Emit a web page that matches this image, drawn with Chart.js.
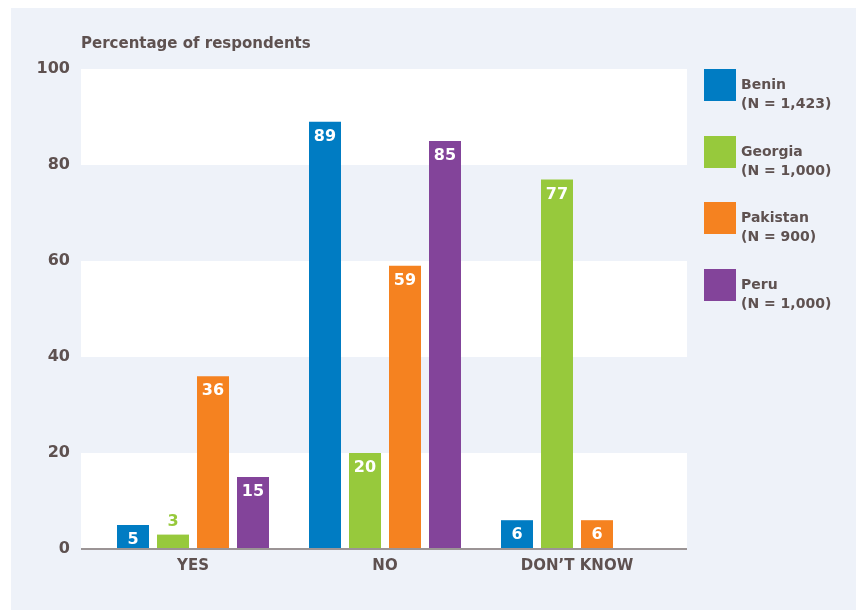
<!DOCTYPE html>
<html>
<head>
<meta charset="utf-8">
<script src="https://cdn.jsdelivr.net/npm/chart.js@4/dist/chart.umd.min.js"></script>
<style>
  html, body { margin: 0; padding: 0; background: #ffffff; }
  #wrap { position: relative; width: 859px; height: 610px; }
</style>
</head>
<body>
<div id="wrap"><canvas id="chart" width="859" height="610"></canvas></div>
<script>
// Survey answers, percentage of respondents per country
const categories = ['YES', 'NO', 'DON\u2019T KNOW'];
const countries = ['Benin', 'Georgia', 'Pakistan', 'Peru'];
const sampleSizes = ['1,423', '1,000', '900', '1,000'];
const benin = [5, 89, 6];
const georgia = [3, 20, 77];
const pakistan = [36, 59, 6];
const peru = [15, 85, 0];
const yTicks = [0, 20, 40, 60, 80, 100];

const colors = ['#007cc3', '#97c93c', '#f58220', '#83449a'];
const textColor = '#5e5150';
const panelColor = '#eef2f9';
const fontFamily = '"DejaVu Sans", sans-serif';
const seriesValues = [benin, georgia, pakistan, peru];
const extLeft = 16, extRight = 14;

// Panel, alternating white bands, baseline, title and legend
const decor = {
  id: 'decor',
  beforeDraw(chart) {
    const { ctx, chartArea, scales } = chart;
    const y = scales.y;
    ctx.save();
    ctx.fillStyle = panelColor;
    ctx.fillRect(11, 8, 845, 602);
    ctx.fillStyle = '#ffffff';
    for (let i = 0; i < yTicks.length - 1; i += 2) {
      const top = y.getPixelForValue(yTicks[i + 1]);
      const bottom = y.getPixelForValue(yTicks[i]);
      ctx.fillRect(chartArea.left - extLeft, top,
        chartArea.right - chartArea.left + extLeft + extRight, bottom - top);
    }
    // title
    ctx.fillStyle = textColor;
    ctx.font = '700 15px ' + fontFamily;
    ctx.textBaseline = 'middle';
    ctx.textAlign = 'left';
    ctx.fillText('Percentage of respondents', chartArea.left - extLeft, 44);
    // legend
    const lx = chartArea.right + extRight + 17;
    countries.forEach((name, i) => {
      const top = Math.round(69 + i * 66.7);
      ctx.fillStyle = colors[i];
      ctx.fillRect(lx, top, 32, 32);
      ctx.fillStyle = textColor;
      ctx.font = '700 14px ' + fontFamily;
      ctx.fillText(name, lx + 37, top + 16);
      ctx.fillText('(N = ' + sampleSizes[i] + ')', lx + 37, top + 35);
    });
    ctx.restore();
  },
  afterDatasetsDraw(chart) {
    const { ctx, chartArea, scales } = chart;
    const y0 = scales.y.getPixelForValue(0);
    ctx.save();
    ctx.strokeStyle = '#9b9495';
    ctx.lineWidth = 2;
    ctx.beginPath();
    ctx.moveTo(chartArea.left - extLeft, y0);
    ctx.lineTo(chartArea.right + extRight, y0);
    ctx.stroke();
    // value labels
    ctx.font = '700 16px ' + fontFamily;
    ctx.textAlign = 'center';
    ctx.textBaseline = 'middle';
    chart.data.datasets.forEach((ds, di) => {
      const meta = chart.getDatasetMeta(di);
      meta.data.forEach((bar, i) => {
        const v = ds.data[i];
        if (!v) return;
        if (v >= 5) {
          ctx.fillStyle = '#ffffff';
          ctx.fillText(String(v), bar.x, bar.y + 15);
        } else {
          ctx.fillStyle = colors[di];
          ctx.fillText(String(v), bar.x, bar.y - 13);
        }
      });
    });
    ctx.restore();
  }
};

new Chart(document.getElementById('chart'), {
  type: 'bar',
  data: {
    labels: categories,
    datasets: countries.map((name, i) => ({
      label: name,
      data: seriesValues[i],
      backgroundColor: colors[i],
      borderWidth: 0,
      inflateAmount: 0,
      barPercentage: 0.8,
      categoryPercentage: 160 / 192
    }))
  },
  options: {
    responsive: false,
    animation: false,
    layout: { padding: { top: 69, right: 186, bottom: 0, left: 0 } },
    plugins: {
      legend: { display: false },
      tooltip: { enabled: false },
      title: { display: false }
    },
    scales: {
      x: {
        grid: { display: false, drawTicks: false },
        border: { display: false },
        ticks: {
          color: textColor,
          font: { family: fontFamily, size: 15, weight: '700' },
          padding: 8,
          maxRotation: 0
        },
        afterFit(scale) { scale.height = 61; }
      },
      y: {
        min: 0,
        max: 100,
        grid: { display: false, drawTicks: false },
        border: { display: false },
        afterBuildTicks(scale) { scale.ticks = yTicks.map(v => ({ value: v })); },
        ticks: {
          color: textColor,
          font: { family: fontFamily, size: 16, weight: '700' },
          padding: 27
        },
        afterFit(scale) { scale.width = 97; }
      }
    }
  },
  plugins: [decor]
});
</script>
</body>
</html>
